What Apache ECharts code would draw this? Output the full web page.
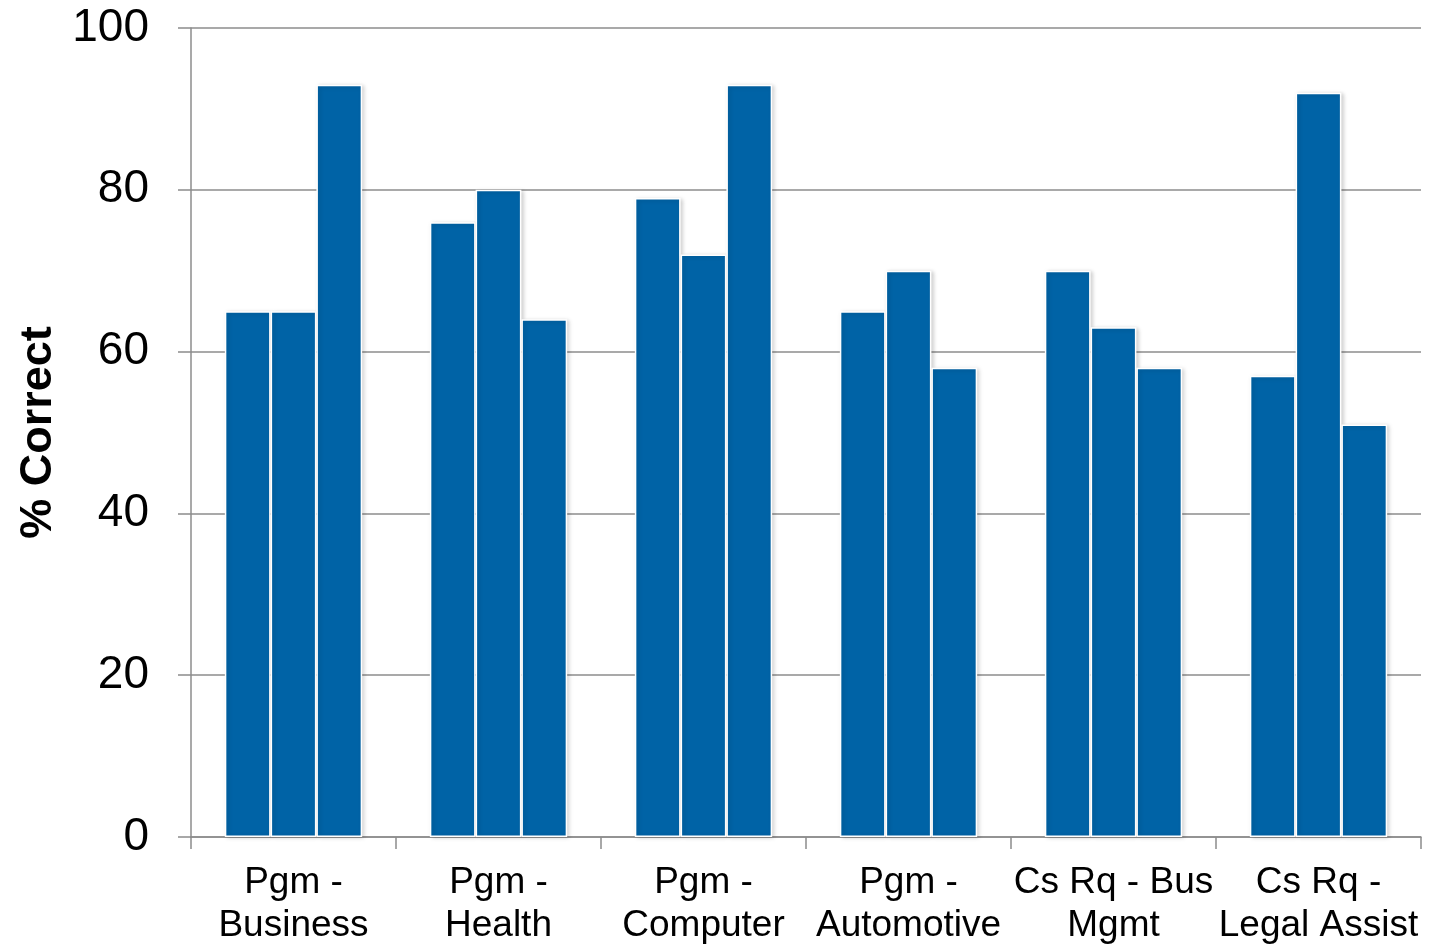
<!DOCTYPE html>
<html><head><meta charset="utf-8">
<script src="https://cdn.jsdelivr.net/npm/echarts@6/dist/echarts.min.js"></script>
<style>html,body{margin:0;padding:0;background:#fff}#c{width:1429px;height:947px}</style>
</head><body><div id="c"></div>
<script>
const categories = ['Pgm -\nBusiness','Pgm -\nHealth','Pgm -\nComputer','Pgm -\nAutomotive','Cs Rq - Bus\nMgmt','Cs Rq -\nLegal Assist'];
const series1 = [65, 76, 79, 65, 70, 57];
const series2 = [65, 80, 72, 70, 63, 92];
const series3 = [93, 64, 93, 58, 58, 51];
const yTicks = {min: 0, max: 100, interval: 20};
const barColor = '#0063a6';
const gray = '#8c8c8c';
const font = 'Liberation Sans, Arial, sans-serif';

const mk = (name, data) => ({
  name, type: 'bar', data,
  barGap: '0%', barCategoryGap: '33%',
  itemStyle: {color: barColor, borderColor: '#ffffff', borderWidth: 1.5,
    shadowColor: 'rgba(0,0,0,0.18)', shadowBlur: 4, shadowOffsetX: 2, shadowOffsetY: 1}
});

const chart = echarts.init(document.getElementById('c'));
chart.setOption({
  animation: false,
  grid: {left: 191, right: 8, top: 28, bottom: 106},
  xAxis: {
    type: 'category', data: categories,
    axisLine: {lineStyle: {color: gray, width: 1.5}},
    axisTick: {show: true, length: 12, lineStyle: {color: gray, width: 1.5}},
    axisLabel: {color: '#000', fontFamily: font, fontSize: 37, lineHeight: 43, margin: 24, interval: 0}
  },
  yAxis: {
    type: 'value', min: yTicks.min, max: yTicks.max, interval: yTicks.interval,
    name: '% Correct', nameLocation: 'middle', nameRotate: 90, nameGap: 130,
    nameTextStyle: {color: '#000', fontFamily: font, fontSize: 45, fontWeight: 'bold'},
    axisLine: {show: true, lineStyle: {color: gray, width: 1.5}},
    axisTick: {show: true, length: 13, lineStyle: {color: gray, width: 1.5}},
    axisLabel: {color: '#000', fontFamily: font, fontSize: 46, margin: 42},
    splitLine: {lineStyle: {color: gray, width: 1.5}}
  },
  series: [mk('Series 1', series1), mk('Series 2', series2), mk('Series 3', series3)]
});
</script></body></html>
